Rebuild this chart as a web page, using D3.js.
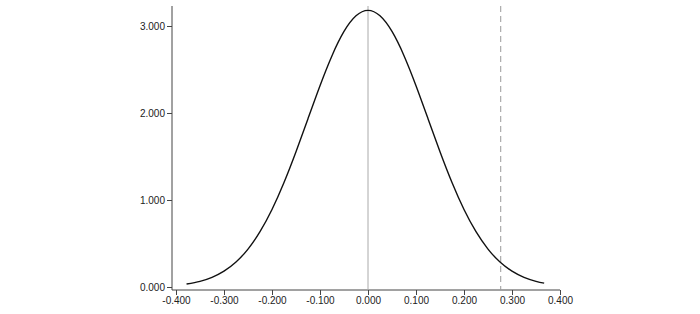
<!DOCTYPE html>
<html lang="en">
<head>
  <meta charset="UTF-8">
  <title>Density curve</title>
  <script src="https://d3js.org/d3.v7.min.js"></script>
  <style>
    body { margin: 0; background: #fff; }
    text { font-family: "Liberation Sans", Arial, sans-serif; font-size: 10px; fill: #222; }
  </style>
</head>
<body>
<div id="chart"></div>
<script>
// Curve points
const xs = [-0.378, -0.350, -0.325, -0.300, -0.275, -0.250, -0.225, -0.200, -0.175, -0.150, -0.125, -0.100, -0.075, -0.050, -0.025,
            0.000, 0.025, 0.050, 0.075, 0.100, 0.125, 0.150, 0.175, 0.200, 0.225, 0.250, 0.275, 0.300, 0.325, 0.350, 0.367];
const ys = [0.034, 0.065, 0.111, 0.182, 0.287, 0.436, 0.636, 0.891, 1.201, 1.555, 1.935, 2.314, 2.659, 2.937, 3.117,
            3.180, 3.117, 2.937, 2.659, 2.314, 1.935, 1.555, 1.201, 0.891, 0.636, 0.436, 0.287, 0.182, 0.111, 0.065, 0.044];

const xTicks = [-0.4, -0.3, -0.2, -0.1, 0, 0.1, 0.2, 0.3, 0.4];
const yTicks = [0, 1, 2, 3];
const refLine = 0;        // solid reference line
const cutLine = 0.2765;   // dashed line

const width = 700, height = 314;

const x = d3.scaleLinear().domain([-0.4, 0.4]).range([176, 560]);
const y = d3.scaleLinear().domain([0, 3]).range([287, 26]);

// plain hyphen for negatives, like the original
const fmt = d => d3.format(".3f")(d).replace("\u2212", "-");

const svg = d3.select("#chart").append("svg")
  .attr("width", width)
  .attr("height", height);

// y axis
const yAxis = svg.append("g")
  .attr("transform", "translate(172,0)")
  .call(d3.axisLeft(y).tickValues(yTicks).tickFormat(fmt).tickSize(5).tickPadding(2));
yAxis.select(".domain").attr("d", "M0,6V290");

// x axis
const xAxis = svg.append("g")
  .attr("transform", "translate(0,290)")
  .call(d3.axisBottom(x).tickValues(xTicks).tickFormat(fmt).tickSize(5).tickPadding(2));
xAxis.select(".domain").attr("d", "M172,0H560");

svg.selectAll(".domain, .tick line").attr("stroke", "#444");
svg.selectAll(".tick text").attr("fill", "#222").style("font-size", "10px");

// reference lines
svg.append("line")
  .attr("x1", x(refLine)).attr("x2", x(refLine))
  .attr("y1", 6).attr("y2", 290)
  .attr("stroke", "#aaa").attr("stroke-width", 1);

svg.append("line")
  .attr("x1", x(cutLine)).attr("x2", x(cutLine))
  .attr("y1", 6).attr("y2", 290)
  .attr("stroke", "#999").attr("stroke-width", 1)
  .attr("stroke-dasharray", "6,4");

// density curve
const pts = xs.map((d, i) => [d, ys[i]]);
const line = d3.line()
  .x(d => x(d[0]))
  .y(d => y(d[1]))
  .curve(d3.curveNatural);

svg.append("path")
  .datum(pts)
  .attr("d", line)
  .attr("fill", "none")
  .attr("stroke", "#111")
  .attr("stroke-width", 1.4);
</script>
</body>
</html>
